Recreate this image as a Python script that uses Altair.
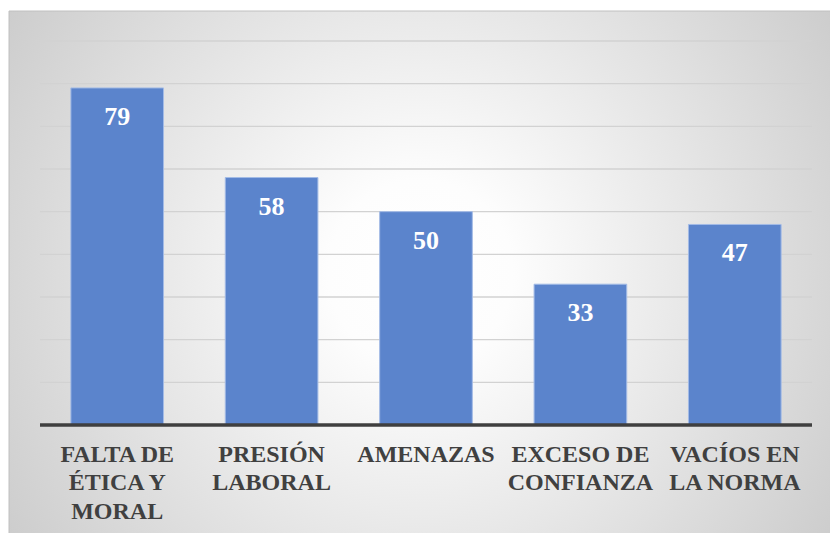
import altair as alt
import pandas as pd

# Category labels, already split into the lines they are shown on
label_lines = [
    ["FALTA DE", "ÉTICA Y", "MORAL"],
    ["PRESIÓN", "LABORAL"],
    ["AMENAZAS"],
    ["EXCESO DE", "CONFIANZA"],
    ["VACÍOS EN", "LA NORMA"],
]
values = [79, 58, 50, 33, 47]
grid_values = [10, 20, 30, 40, 50, 60, 70, 80, 90]

categories = ["\n".join(lines) for lines in label_lines]
df = pd.DataFrame({"categoria": categories, "valor": values})
grid_df = pd.DataFrame({"v": grid_values})
base_df = pd.DataFrame({"v": [0]})

FONT = "Liberation Serif"
PLOT_W, PLOT_H = 772, 384

x_enc = alt.X(
    "categoria:N",
    sort=categories,
    scale=alt.Scale(paddingInner=0.4, paddingOuter=0.2),
    axis=alt.Axis(
        title=None,
        domain=False,
        ticks=False,
        labelAngle=0,
        labelFont=FONT,
        labelFontSize=24,
        labelFontWeight="bold",
        labelColor="#404040",
        labelPadding=17,
        labelLineHeight=28.5,
        labelBaseline="top",
        labelLimit=300,
        labelOverlap=False,
        labelExpr="split(datum.label, '\\n')",
        zindex=1,
    ),
)
y_scale = alt.Scale(domain=[0, 90], nice=False)

# Soft radial background behind the whole chart
background = alt.Chart(pd.DataFrame({"k": [0]})).mark_rect(
    color={
        "gradient": "radial",
        "x1": 0.5, "y1": 0.5, "r1": 0,
        "x2": 0.5, "y2": 0.5, "r2": 0.75,
        "stops": [
            {"offset": 0.0, "color": "#ffffff"},
            {"offset": 0.15, "color": "#fdfdfd"},
            {"offset": 1.0, "color": "#bdbdbd"},
        ],
    },
    stroke="#c0c0c0",
    strokeWidth=1,
).encode(
    x=alt.value(-31), x2=alt.value(PLOT_W + 20),
    y=alt.value(-30), y2=alt.value(PLOT_H + 110),
)

grid = alt.Chart(grid_df).mark_rule(color="#d2d2d2", strokeWidth=1.3).encode(
    y=alt.Y("v:Q", scale=y_scale, axis=None),
    x=alt.value(0), x2=alt.value(PLOT_W),
)

bars = alt.Chart(df).mark_bar(
    color="#5b84cc", stroke="#a3bbe6", strokeWidth=1
).encode(
    x=x_enc,
    y=alt.Y("valor:Q", scale=y_scale, axis=None),
)

baseline = alt.Chart(base_df).mark_rule(color="#3f3f3f", strokeWidth=3.5).encode(
    y=alt.Y("v:Q", scale=y_scale, axis=None),
    x=alt.value(0), x2=alt.value(PLOT_W),
)

labels = alt.Chart(df).mark_text(
    font=FONT, fontSize=26, fontWeight="bold", color="white",
    baseline="alphabetic", dy=37,
).encode(
    x=alt.X("categoria:N", sort=categories),
    y=alt.Y("valor:Q", scale=y_scale, axis=None),
    text=alt.Text("valor:Q"),
)

chart = (
    alt.layer(background, grid, bars, baseline, labels)
    .properties(
        width=PLOT_W,
        height=PLOT_H,
        padding={"left": 40, "top": 41, "right": 18, "bottom": 108},
        autosize=alt.AutoSizeParams(type="none"),
        background="white",
    )
    .configure_view(stroke=None)
)

chart.save("out.html", embed_options={"renderer": "svg", "actions": False})
